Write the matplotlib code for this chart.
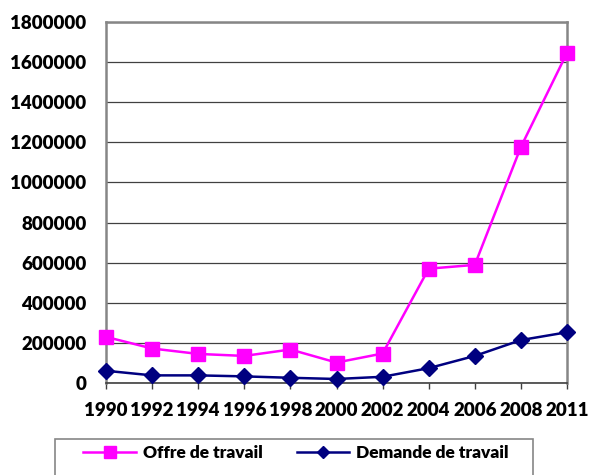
import matplotlib
matplotlib.use("Agg")
import matplotlib.pyplot as plt
from matplotlib.lines import Line2D
from matplotlib.patches import Rectangle

plt.rcParams['font.family'] = ['Lato', 'DejaVu Sans']
plt.rcParams['font.weight'] = 'heavy'

annees = ['1990', '1992', '1994', '1996', '1998', '2000', '2002', '2004', '2006', '2008', '2011']
offre = [230000, 172000, 145000, 135000, 167000, 102000, 147000, 570000, 589000, 1177000, 1646000]
demande = [61000, 38000, 38000, 33000, 26000, 20000, 31000, 74000, 135000, 214000, 253000]
yticks = [0, 200000, 400000, 600000, 800000, 1000000, 1200000, 1400000, 1600000, 1800000]

fig = plt.figure(figsize=(5.91, 4.75), dpi=100)
ax = fig.add_axes([106 / 591, 92 / 475, 461 / 591, 361 / 475])

x = list(range(len(annees)))
ax.plot(x, offre, color='#FF00FF', lw=1.8, marker='s', ms=10, zorder=3, clip_on=False)
ax.plot(x, demande, color='#000080', lw=1.8, marker='D', ms=8.5, zorder=3, clip_on=False)

ax.set_xlim(0, len(annees) - 1)
ax.set_ylim(0, 1800000)
ax.set_xticks(x)
ax.set_xticklabels(annees)
ax.set_yticks(yticks)
ax.set_yticklabels([str(v) for v in yticks])

ax.grid(axis='y', color='#404040', lw=0.9)
ax.set_axisbelow(True)
for side in ['top', 'right', 'left']:
    ax.spines[side].set_color('#868686')
    ax.spines[side].set_linewidth(1.8)
ax.spines['bottom'].set_color('#404040')
ax.spines['bottom'].set_linewidth(1.2)
ax.tick_params(axis='y', length=0, pad=14, labelsize=13.5)
ax.tick_params(axis='x', length=4, width=1, color='#404040', pad=10, labelsize=13.5)

# cadre de la légende en bas
fig.patches.append(Rectangle((55 / 591, -0.02), 478 / 591, 36 / 475 + 0.02,
                             transform=fig.transFigure, fill=False,
                             edgecolor='#868686', lw=1.2))
handles = [
    Line2D([], [], color='#FF00FF', lw=1.8, marker='s', ms=8),
    Line2D([], [], color='#000080', lw=1.8, marker='D', ms=6),
]
fig.legend(handles, ['Offre de travail', 'Demande de travail'], loc='center',
           bbox_to_anchor=(296 / 591, 1 - 453 / 475), ncol=2, frameon=False,
           prop={'size': 12.5, 'weight': 'heavy'}, handlelength=3.0,
           handletextpad=0.4, columnspacing=2.0)

fig.savefig('out.png', dpi=100)
